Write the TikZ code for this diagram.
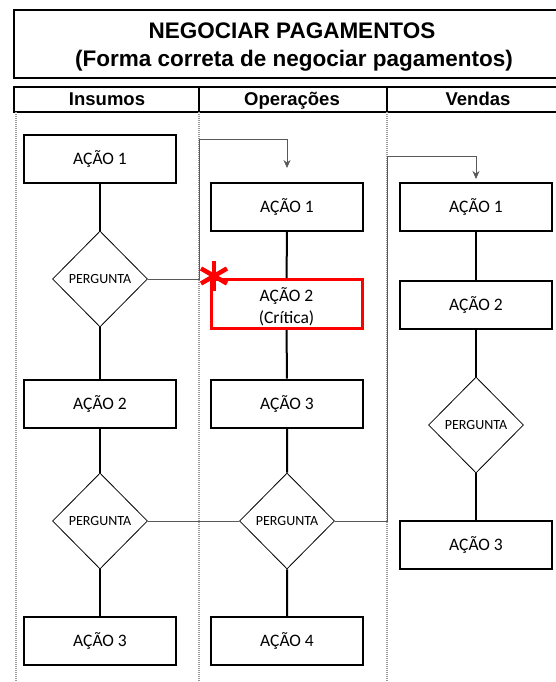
\documentclass[tikz,border=0pt]{standalone}
\usepackage{fontspec}
\setmainfont{Carlito}
\newfontfamily\arialb{Liberation Sans}
\usetikzlibrary{shapes.geometric,arrows.meta,calc}
\begin{document}
\begin{tikzpicture}[x=1pt,y=-1pt,
  actbox/.style={draw,line width=2pt,minimum width=152pt,minimum height=48pt,inner sep=0pt,font=\fontsize{17.5}{21}\selectfont},
  critbox/.style={draw=red,line width=3pt,minimum width=151pt,minimum height=49pt,inner sep=0pt,align=center,font=\fontsize{17.5}{22}\selectfont},
  qdia/.style={draw,diamond,line width=0.8pt,minimum width=95pt,minimum height=96pt,inner sep=0pt,label={[font=\fontsize{14}{16}\selectfont]center:#1}},
  flow/.style={line width=2pt},
  link/.style={line width=0.8pt,draw=black!65},
  lane/.style={line width=1.4pt,draw=black!40,dash pattern=on 1pt off 1pt},
  frame/.style={line width=2pt},
  hdr/.style={anchor=base,inner sep=0pt,font=\arialb\bfseries\fontsize{18.5}{20}\selectfont},
  ttl/.style={anchor=base,inner sep=0pt,font=\arialb\bfseries\fontsize{22.5}{26}\selectfont},
  ]
\useasboundingbox (0,0) rectangle (556,682);
% title
\draw[frame] (556,10) -- (14,10) -- (14,78) -- (556,78);
\node[ttl] (title1) at (292,38.5) {NEGOCIAR PAGAMENTOS};
\node[ttl] (title2) at (294,67) {(Forma correta de negociar pagamentos)};
% header
\draw[frame] (556,87) -- (14,87) -- (14,112) -- (556,112);
\draw[frame] (199,87) -- (199,112);
\draw[frame] (387,87) -- (387,112);
\node[hdr] (h1) at (107,106) {Insumos};
\node[hdr] (h2) at (292,106) {Operações};
\node[hdr] (h3) at (478,106) {Vendas};
% lanes
\draw[lane] (16,112) -- (16,682);
\draw[lane] (199,112) -- (199,682);
\draw[lane] (387,112) -- (387,682);
% left column
\node[actbox] (la1) at (100,159) {AÇÃO 1};
\node[qdia=PERGUNTA] (ld1) at (100,279) {};
\node[actbox] (la2) at (100,403.5) {AÇÃO 2};
\node[qdia=PERGUNTA] (ld2) at (100,521) {};
\node[actbox] (la3) at (100,641) {AÇÃO 3};
% middle column
\node[actbox] (ma1) at (287,207) {AÇÃO 1};
\node[critbox] (ma2) at (286.5,304) {};
\node[font=\fontsize{17.5}{22}\selectfont,align=center,inner sep=0pt] (ma2t) at (286.5,307) {AÇÃO 2\\(Crítica)};
\node[actbox] (ma3) at (287,403.5) {AÇÃO 3};
\node[qdia=PERGUNTA] (md) at (287,521) {};
\node[actbox] (ma4) at (287,641) {AÇÃO 4};
% right column
\node[actbox] (ra1) at (476,207) {AÇÃO 1};
\node[actbox] (ra2) at (476,304.5) {AÇÃO 2};
\node[qdia=PERGUNTA] (rd) at (476,425) {};
\node[actbox] (ra3) at (476,545) {AÇÃO 3};
% flows
\draw[flow] (la1) -- (ld1) -- (la2) -- (ld2) -- (la3);
\draw[flow] (ma1) -- (ma2) -- (ma3) -- (md) -- (ma4);
\draw[flow] (ra1) -- (ra2) -- (rd) -- (ra3);
% cross-lane links
\coordinate (t1) at (287,168);
\coordinate (t2) at (476,179);
\draw[link,-{Stealth[length=8pt,width=7pt]}] (ld1.east) -- (199,279) -- (199,139) -| (t1);
\draw[link] (ld2.east) -- (md.west);
\draw[link,-{Stealth[length=8pt,width=7pt]}] (md.east) -- (387,521) -- (387,156) -| (t2);
% asterisk
\node[inner sep=0pt] (ast) at (214,276) {};
\foreach \a in {90,30,-30} {
  \draw[red,line width=4.5pt] ($(ast)+(\a:15pt)$) -- ($(ast)+(\a+180:15pt)$);
}
\end{tikzpicture}
\end{document}
